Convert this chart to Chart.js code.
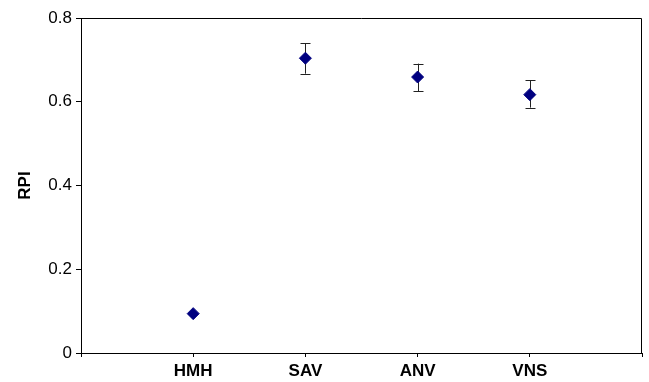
<!DOCTYPE html>
<html>
<head>
<meta charset="utf-8">
<script src="https://cdn.jsdelivr.net/npm/chart.js@4/dist/chart.umd.min.js"></script>
<style>
  html, body { margin: 0; padding: 0; background: #fff; }
  #wrap { width: 649px; height: 382px; }
</style>
</head>
<body>
<div id="wrap"><canvas id="rpiChart" width="649" height="382"></canvas></div>
<script>
// categories sit at x = 1..4, with an empty slot either side
const categories = ['', 'HMH', 'SAV', 'ANV', 'VNS', ''];
const rpiValues = [0.094, 0.704, 0.659, 0.617];
const errLow = [null, 0.667, 0.625, 0.586];
const errHigh = [null, 0.740, 0.691, 0.651];
const yTicks = [0, 0.2, 0.4, 0.6, 0.8];

const points = rpiValues.map((v, i) => ({ x: i + 1, y: v }));

// draws the frame round the plot and the error bars
const extras = {
    id: 'extras',
    beforeDatasetsDraw(chart) {
        const ctx = chart.ctx;
        const a = chart.chartArea;
        const xs = chart.scales.x, ys = chart.scales.y;
        ctx.save();
        ctx.strokeStyle = '#000';
        ctx.lineWidth = 1;
        ctx.beginPath();
        ctx.moveTo(a.left, a.top + 0.5);
        ctx.lineTo(a.right - 0.5, a.top + 0.5);
        ctx.lineTo(a.right - 0.5, a.bottom);
        ctx.stroke();

        ctx.strokeStyle = '#222';
        rpiValues.forEach((v, i) => {
            if (errLow[i] == null) return;
            const px = Math.round(xs.getPixelForValue(i + 1)) + 0.5;
            const top = ys.getPixelForValue(errHigh[i]);
            const bot = ys.getPixelForValue(errLow[i]);
            ctx.beginPath();
            ctx.moveTo(px, top);
            ctx.lineTo(px, bot);
            ctx.moveTo(px - 5, Math.round(top) + 0.5);
            ctx.lineTo(px + 5, Math.round(top) + 0.5);
            ctx.moveTo(px - 5, Math.round(bot) + 0.5);
            ctx.lineTo(px + 5, Math.round(bot) + 0.5);
            ctx.stroke();
        });
        ctx.restore();
    }
};

const ctx = document.getElementById('rpiChart').getContext('2d');
new Chart(ctx, {
    type: 'scatter',
    data: {
        datasets: [{
            data: points,
            pointStyle: 'rectRot',
            pointRadius: 6,
            pointBorderWidth: 1,
            backgroundColor: '#000080',
            borderColor: '#000080'
        }]
    },
    options: {
        responsive: false,
        animation: false,
        layout: { padding: { top: 18, right: 1, left: 0, bottom: 0 } },
        plugins: { legend: { display: false }, tooltip: { enabled: false } },
        scales: {
            x: {
                type: 'linear',
                min: 0,
                max: categories.length - 1,
                afterFit: s => { s.height = 29; s.paddingLeft = 0; s.paddingRight = 0; },
                afterBuildTicks: s => { s.ticks = categories.map((c, i) => ({ value: i })); },
                grid: { drawOnChartArea: false, drawTicks: true, tickLength: 4, color: '#000' },
                border: { display: true, color: '#000', width: 1 },
                ticks: {
                    color: '#000',
                    padding: 4,
                    maxRotation: 0,
                    autoSkip: false,
                    font: { family: 'Liberation Sans, Arial, sans-serif', size: 17, weight: 'bold' },
                    callback: v => categories[v]
                }
            },
            y: {
                min: 0,
                max: 0.8,
                afterFit: s => { s.width = 81; },
                afterBuildTicks: s => { s.ticks = yTicks.map(v => ({ value: v })); },
                grid: { drawOnChartArea: false, drawTicks: true, tickLength: 5, color: '#000' },
                border: { display: true, color: '#000', width: 1 },
                title: {
                    display: true,
                    text: 'RPI',
                    color: '#000',
                    padding: { top: 15, bottom: 0 },
                    font: { family: 'Liberation Sans, Arial, sans-serif', size: 17, weight: 'bold' }
                },
                ticks: {
                    color: '#000',
                    padding: 4,
                    font: { family: 'Liberation Sans, Arial, sans-serif', size: 17 },
                    callback: v => (v === 0 ? '0' : v.toFixed(1))
                }
            }
        }
    },
    plugins: [extras]
});
</script>
</body>
</html>
